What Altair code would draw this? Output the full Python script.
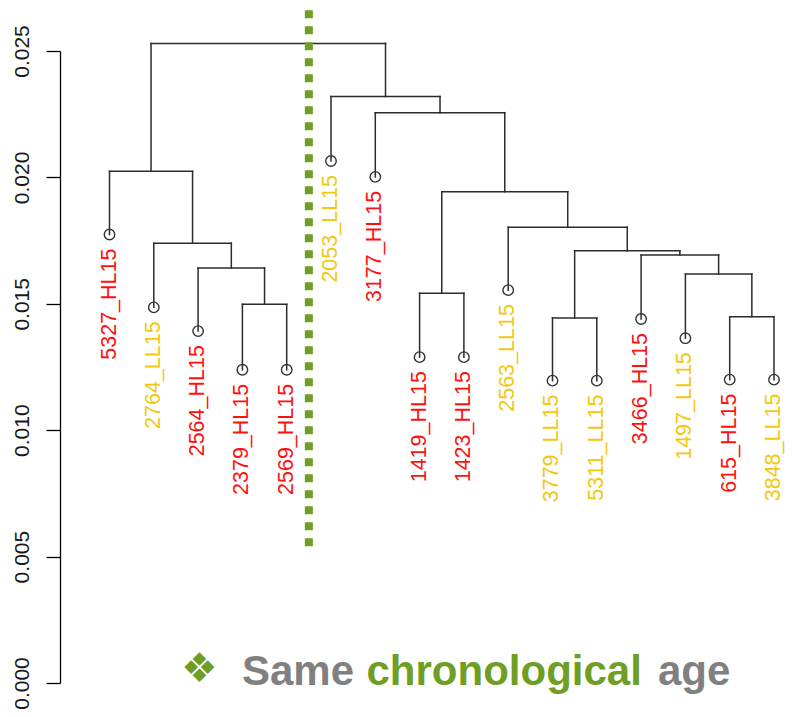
import altair as alt
import pandas as pd

# ---- data ----
leaf_labels = ["5327_HL15", "2764_LL15", "2564_HL15", "2379_HL15", "2569_HL15",
               "2053_LL15", "3177_HL15", "1419_HL15", "1423_HL15", "2563_LL15",
               "3779_LL15", "5311_LL15", "3466_HL15", "1497_LL15", "615_HL15",
               "3848_LL15"]
leaf_groups = ["HL", "LL", "HL", "HL", "HL", "LL", "HL", "HL", "HL", "LL",
               "LL", "LL", "HL", "LL", "HL", "LL"]
leaf_heights = [0.01774, 0.01486, 0.01392, 0.01239, 0.01239, 0.02065, 0.02002,
                0.01289, 0.01289, 0.01554, 0.01196, 0.01196, 0.01440, 0.01364,
                0.01200, 0.01200]

# hclust-style merge table: negative = leaf (1-based order), positive = earlier merge
merge_a = [-4, -3, -2, -1, -8, -15, -11, -14, -13, 7, -10, 5, -7, -6, 4]
merge_b = [-5, 1, 2, 3, -9, -16, -12, 6, 8, 9, 10, 11, 12, 13, 14]
merge_heights = [0.01498, 0.01642, 0.01740, 0.02024, 0.01542, 0.01449, 0.01444,
                 0.01618, 0.01693, 0.01710, 0.01803, 0.01943, 0.02256, 0.02320,
                 0.02530]

cut_position = [5.5]
cut_range = [0.02661, 0.00511]

y_ticks = [0.0, 0.005, 0.010, 0.015, 0.020, 0.025]

# ---- build the dendrogram segments from the merge table ----
node_x = {}


def node_pos(ref):
    if ref < 0:
        return float(-ref), leaf_heights[-ref - 1]
    return node_x[ref], merge_heights[ref - 1]


segments = []
for k, (a, b, h) in enumerate(zip(merge_a, merge_b, merge_heights), start=1):
    xa, ya = node_pos(a)
    xb, yb = node_pos(b)
    segments.append({"x": xa, "x2": xa, "y": ya, "y2": h})
    segments.append({"x": xb, "x2": xb, "y": yb, "y2": h})
    segments.append({"x": xa, "x2": xb, "y": h, "y2": h})
    node_x[k] = (xa + xb) / 2.0

seg_df = pd.DataFrame(segments)
leaf_df = pd.DataFrame({
    "x": [float(i + 1) for i in range(len(leaf_labels))],
    "y": leaf_heights,
    "label": leaf_labels,
    "group": leaf_groups,
})
cut_df = pd.DataFrame({"x": cut_position, "y": [cut_range[0]], "y2": [cut_range[1]]})
one = pd.DataFrame({"k": [0]})

xs = alt.Scale(domain=[-0.1174, 16.2709], nice=False, zero=False)
ys = alt.Scale(domain=[0, 0.025], nice=False, zero=False)

yaxis = alt.Axis(values=y_ticks, format=".3f", labelAngle=270, labelAlign="center",
                 labelBaseline="alphabetic", labelPadding=18, tickSize=14,
                 tickWidth=1.3, tickColor="#000000", domainColor="#000000",
                 domainWidth=1.3, labelFontSize=21, labelColor="#1a1a1a",
                 labelFont="Liberation Sans", grid=False, title=None)

X = alt.X("x:Q", scale=xs, axis=None)
Y = alt.Y("y:Q", scale=ys, axis=yaxis)

tree = alt.Chart(seg_df).mark_rule(color="#2b2b2b", strokeWidth=1.5,
                                   strokeCap="square").encode(
    x=X, x2="x2:Q", y=Y, y2="y2:Q",
)

points = alt.Chart(leaf_df).mark_point(shape="circle", filled=False, size=110,
                                       color="#333333", strokeWidth=1.4,
                                       opacity=1).encode(x=X, y=Y)

labels = alt.Chart(leaf_df).mark_text(angle=270, align="right", baseline="middle",
                                      dx=-14, fontSize=21.5,
                                      font="Liberation Sans").encode(
    x=X, y=Y,
    text="label:N",
    color=alt.Color("group:N", scale=alt.Scale(domain=["HL", "LL"],
                                               range=["#FF1010", "#F2C811"]),
                    legend=None),
)

cut = alt.Chart(cut_df).mark_rule(color="#6E9E24", strokeWidth=8,
                                  strokeDash=[8, 8], strokeCap="butt").encode(
    x=X, y=Y, y2="y2:Q",
)

title_font = "Liberation Sans"
mark_sym = alt.Chart(one).mark_text(text="\u2756", fontSize=41, font="DejaVu Sans",
                                    color="#6E9E24", align="center",
                                    baseline="middle").encode(
    x=alt.value(139.3), y=alt.value(618.5))
w_same = alt.Chart(one).mark_text(text="Same", fontSize=42, font=title_font,
                                  fontWeight="bold", color="#808080", align="left",
                                  baseline="alphabetic").encode(
    x=alt.value(182), y=alt.value(634))
w_chrono = alt.Chart(one).mark_text(text="chronological", fontSize=42, font=title_font,
                                    fontWeight="bold", color="#6E9E24", align="left",
                                    baseline="alphabetic").encode(
    x=alt.value(306.5), y=alt.value(634))
w_age = alt.Chart(one).mark_text(text="age", fontSize=42, font=title_font,
                                 fontWeight="bold", color="#808080", align="left",
                                 baseline="alphabetic").encode(
    x=alt.value(598), y=alt.value(634))

chart = alt.layer(tree, points, labels, cut, mark_sym, w_same, w_chrono, w_age).properties(
    width=726, height=632,
    autosize=alt.AutoSizeParams(type="none"),
    padding={"left": 52, "top": 43, "right": 0, "bottom": 26},
    background="white",
).configure_view(strokeWidth=0)

chart.save("out.html", embed_options={"renderer": "svg", "actions": False})
